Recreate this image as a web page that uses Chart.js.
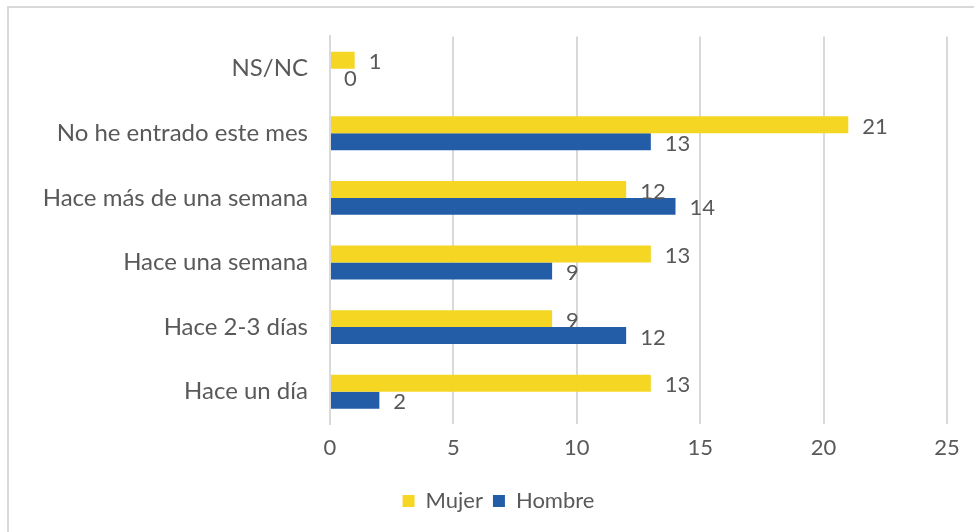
<!DOCTYPE html>
<html>
<head>
<meta charset="utf-8">
<script src="https://cdn.jsdelivr.net/npm/chart.js@4/dist/chart.umd.min.js"></script>
<style>
  html, body { margin: 0; padding: 0; background: #ffffff; }
  #wrap { position: relative; width: 974px; height: 532px; }
  #frame { position: absolute; left: 7px; top: 6px; right: -4px; bottom: -4px; border: 2px solid #D9D9D9; pointer-events: none; }
</style>
</head>
<body>
<div id="wrap">
  <canvas id="chart" width="974" height="532"></canvas>
  <div id="frame"></div>
</div>
<script>
// Survey answers: when did you last log in
const categories = [
  'NS/NC',
  'No he entrado este mes',
  'Hace más de una semana',
  'Hace una semana',
  'Hace 2-3 días',
  'Hace un día'
];
const mujer  = [1, 21, 12, 13, 9, 13];
const hombre = [0, 13, 14, 9, 12, 2];
const xTicks = [0, 5, 10, 15, 20, 25];

const FONT = 'Lato, "Open Sans", sans-serif';
const TEXT = '#595959';

// Value labels placed just past the end of each bar
const valueLabels = {
  id: 'valueLabels',
  afterDatasetsDraw(chart) {
    const ctx = chart.ctx;
    ctx.save();
    ctx.font = '22px ' + FONT;
    ctx.fillStyle = TEXT;
    ctx.textAlign = 'left';
    ctx.textBaseline = 'middle';
    chart.data.datasets.forEach((ds, i) => {
      const meta = chart.getDatasetMeta(i);
      meta.data.forEach((bar, j) => {
        ctx.fillText(String(ds.data[j]), bar.x + 14, bar.y + 2);
      });
    });
    ctx.restore();
  }
};

new Chart(document.getElementById('chart'), {
  type: 'bar',
  data: {
    labels: categories,
    datasets: [
      { label: 'Mujer',  data: mujer,  backgroundColor: '#F4D623' },
      { label: 'Hombre', data: hombre, backgroundColor: '#235DA8' }
    ]
  },
  options: {
    indexAxis: 'y',
    responsive: false,
    animation: false,
    devicePixelRatio: 1,
    categoryPercentage: 0.525,
    barPercentage: 1,
    layout: { padding: { top: 32, right: 0, left: 23, bottom: 10 } },
    scales: {
      x: {
        min: 0,
        max: 25,
        afterBuildTicks(scale) { scale.ticks = xTicks.map(v => ({ value: v })); },
        afterFit(scale) { scale.height = 56; },
        border: { display: false },
        grid: { color: '#D9D9D9', lineWidth: 2, drawTicks: false },
        ticks: { color: TEXT, font: { family: FONT, size: 22 }, padding: 11 }
      },
      y: {
        afterFit(scale) { scale.width = 307; },
        border: { display: true, color: '#D9D9D9', width: 2 },
        grid: { display: false, drawTicks: false },
        ticks: { color: TEXT, font: { family: FONT, size: 24 }, padding: 22 }
      },
      // empty spacer on the right so the last tick label has room
      side: {
        axis: 'y',
        position: 'right',
        display: true,
        afterFit(scale) { scale.width = 27; },
        grid: { display: false, drawTicks: false },
        border: { display: false },
        ticks: { display: false }
      }
    },
    plugins: {
      legend: {
        position: 'bottom',
        labels: {
          color: TEXT,
          font: { family: FONT, size: 22 },
          boxWidth: 12,
          boxHeight: 12,
          padding: 10,
          useBorderRadius: false
        }
      },
      tooltip: { enabled: false }
    }
  },
  plugins: [valueLabels]
});
</script>
</body>
</html>
